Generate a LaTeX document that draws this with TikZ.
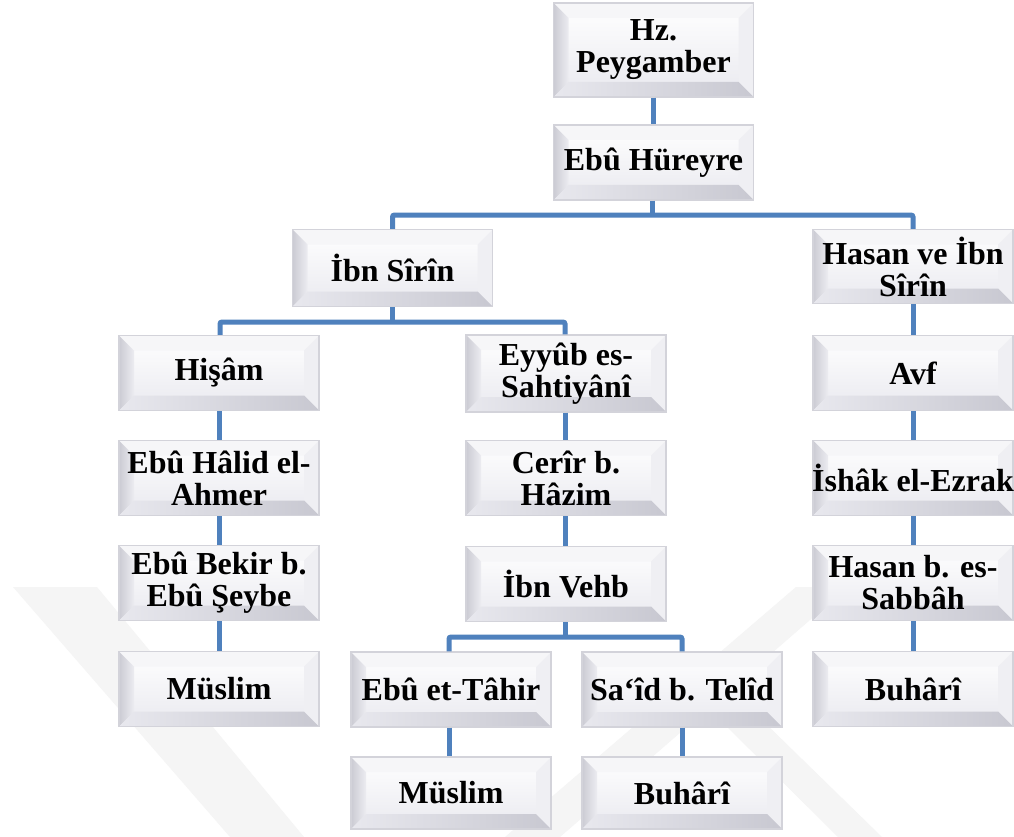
\documentclass[tikz,border=0pt]{standalone}
\usepackage{fontspec}
\setmainfont{Liberation Serif}
\usetikzlibrary{calc}
\definecolor{conncol}{HTML}{4F81BD}
\definecolor{edgecol}{HTML}{D3D3DA}
\definecolor{facebot}{HTML}{E9E9EF}
\definecolor{topface}{HTML}{F6F6F8}
\definecolor{rightface}{HTML}{EFEFF3}
\definecolor{lfa}{HTML}{CBCBD3}
\definecolor{lfb}{HTML}{ECECF1}
\definecolor{bfa}{HTML}{E8E8EE}
\definecolor{bfb}{HTML}{C8C8D1}
\definecolor{wmcol}{HTML}{F5F5F5}
\tikzset{
  bev/.style={draw=edgecol, line width=1.2pt, top color=white, bottom color=facebot,
    minimum width=200pt, minimum height=75pt, inner sep=0pt, align=center,
    font=\fontsize{32}{32}\selectfont\bfseries,
    path picture={
      \path (path picture bounding box.north west) coordinate (pba)
            (path picture bounding box.north east) coordinate (pbb)
            (path picture bounding box.south east) coordinate (pbc)
            (path picture bounding box.south west) coordinate (pbd);
      \path ($(pba)+(15pt,-15pt)$) coordinate (pbA)
            ($(pbb)+(-15pt,-15pt)$) coordinate (pbB)
            ($(pbc)+(-15pt,15pt)$) coordinate (pbC)
            ($(pbd)+(15pt,15pt)$) coordinate (pbD);
      \fill[topface] (pba) -- (pbb) -- (pbB) -- (pbA) -- cycle;
      \fill[rightface] (pbb) -- (pbc) -- (pbC) -- (pbB) -- cycle;
      \shade[left color=lfa, right color=lfb] (pba) -- (pbA) -- (pbD) -- (pbd) -- cycle;
      \shade[left color=bfa, right color=bfb] (pbd) -- (pbD) -- (pbC) -- (pbc) -- cycle;
    }},
  conn/.style={draw=conncol, line width=5pt},
  wm/.style={fill=wmcol}
}
\begin{document}
\begin{tikzpicture}[x=1pt,y=-1pt]
\useasboundingbox[fill=white] (0,0) rectangle (1014,837);
% watermark
\fill[wm] (13,587) -- (97,587) -- (304,837) -- (230,837) -- cycle;
\fill[wm] (796,587) -- (848,587) -- (560,837) -- (505,837) -- cycle;
\fill[wm] (720,720) -- (762,720) -- (882,837) -- (838,837) -- cycle;

% nodes
\node[bev, minimum height=94pt] (hz) at (653.5,50) {Hz.\\Peygamber};
\node[bev] (ebuh) at (653.5,162.5) {Ebû Hüreyre};
\node[bev, minimum height=77pt] (ibns) at (392.5,268) {İbn Sîrîn};
\node[bev, minimum height=74pt] (hasan) at (913,266.5) {Hasan ve İbn\\Sîrîn};

\node[bev] (hisam) at (219,373) {Hişâm};
\node[bev, minimum height=77pt] (eyyub) at (566,373.5) {Eyyûb es-\\Sahtiyânî};
\node[bev] (avf) at (913,373) {Avf};

\node[bev] (halid) at (219,478) {Ebû Hâlid el-\\Ahmer};
\node[bev] (cerir) at (566,478) {Cerîr b.\\Hâzim};
\node[bev] (ishak) at (913,478) {\makebox[196pt]{İshâk el-Ezrak}};

\node[bev] (bekir) at (219,583) {Ebû Bekir b.\\Ebû Şeybe};
\node[bev] (vehb) at (566,584) {İbn Vehb};
\node[bev] (hasanb) at (913,583) {Hasan b. es-\\Sabbâh};

\node[bev] (muslima) at (219,689) {Müslim};
\node[bev] (tahir) at (451,689.5) {Ebû et-Tâhir};
\node[bev] (said) at (682,689.5) {Sa‘îd b. Telîd};
\node[bev] (buharia) at (913,689) {Buhârî};

\node[bev, minimum height=72pt] (muslimb) at (451,793) {Müslim};
\node[bev, minimum height=72pt] (buharib) at (682,793) {Buhârî};

% connectors
\coordinate (j1) at (652,215);
\coordinate (j2) at (392,322);
\coordinate (j3) at (565,637);
\draw[conn] (hz) -- (ebuh);
\draw[conn] (ebuh.south -| j1) -- (j1);
\draw[conn, rounded corners=2pt] (ibns.north) |- (j1) -| (hasan.north);
\draw[conn] (ibns.south -| j2) -- (j2);
\draw[conn, rounded corners=2pt] (hisam.north -| 220,0) |- (j2) -| (eyyub.north -| 565,0);
\draw[conn] (vehb.south -| j3) -- (j3);
\draw[conn, rounded corners=2pt] (tahir.north -| 449,0) |- (j3) -| (said.north -| 682,0);

\draw[conn] (hisam) -- (halid);
\draw[conn] (halid) -- (bekir);
\draw[conn] (bekir) -- (muslima);

\draw[conn] (eyyub.south -| 565,0) -- (cerir.north -| 565,0);
\draw[conn] (cerir.south -| 565,0) -- (vehb.north -| 565,0);

\draw[conn] (hasan) -- (avf);
\draw[conn] (avf) -- (ishak);
\draw[conn] (ishak) -- (hasanb);
\draw[conn] (hasanb) -- (buharia);

\draw[conn] (tahir.south -| 449,0) -- (muslimb.north -| 449,0);
\draw[conn] (said) -- (buharib);
\end{tikzpicture}
\end{document}
